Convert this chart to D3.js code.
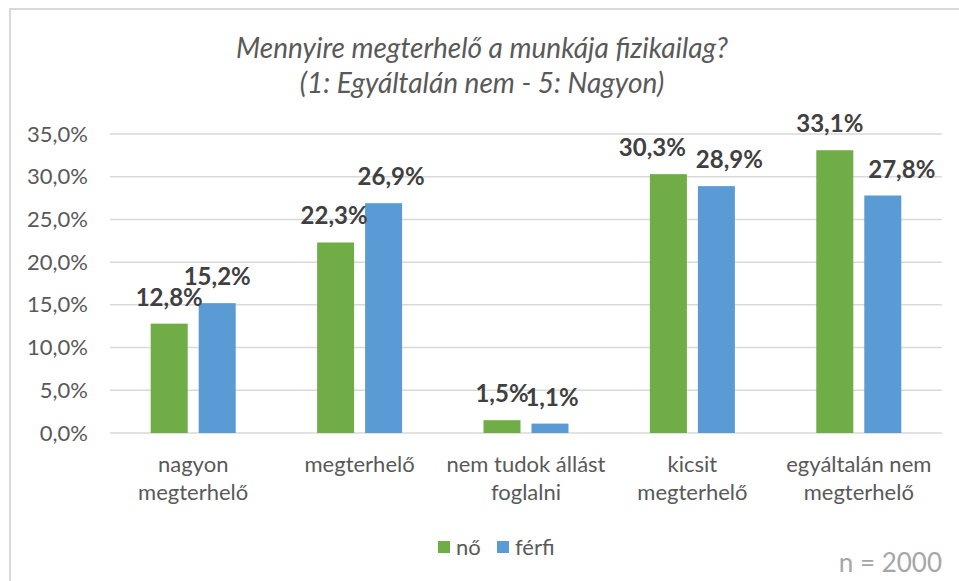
<!DOCTYPE html>
<html lang="hu">

<head>
    <meta charset="utf-8">
    <title>Mennyire megterhelő a munkája fizikailag?</title>
    <script type="text/javascript" src="https://d3js.org/d3.v7.min.js"></script>
    <style type="text/css">
        body {
            margin: 0;
            background: #fff;
        }

        text {
            font-family: Lato, "Open Sans", sans-serif;
            fill: #595959;
        }

        .axis path,
        .axis line {
            display: none;
        }
    </style>
</head>

<body>
    <script type="text/javascript">

        // data
        var categories = [
            ["nagyon", "megterhelő"],
            ["megterhelő"],
            ["nem tudok állást", "foglalni"],
            ["kicsit", "megterhelő"],
            ["egyáltalán nem", "megterhelő"]
        ];
        var seriesNames = ["nő", "férfi"];
        var noValues = [12.8, 22.3, 1.5, 30.3, 33.1];
        var ferfiValues = [15.2, 26.9, 1.1, 28.9, 27.8];
        var yTicks = [0, 5, 10, 15, 20, 25, 30, 35];
        var titleLines = ["Mennyire megterhelő a munkája fizikailag?", "(1: Egyáltalán nem - 5: Nagyon)"];
        var note = "n = 2000";

        // styling: colours and label nudges (Excel pushes overlapping labels apart)
        var colors = ["#70ad47", "#5b9bd5"];
        var labelShift = [[0, 0], [-1.5, 7.5], [0, 2], [-16, 13], [-5, 19]];
        var W = 959, H = 581;
        var plot = { left: 110, right: 942, top: 134, bottom: 433 };

        var svg = d3.select("body")
            .append("svg")
            .attr("width", W)
            .attr("height", H);

        // chart frame (only top and left edges visible)
        svg.append("rect")
            .attr("x", 10)
            .attr("y", 9)
            .attr("width", W + 20)
            .attr("height", H + 20)
            .attr("fill", "none")
            .attr("stroke", "#d9d9d9")
            .attr("stroke-width", 2);

        // title
        svg.append("text")
            .attr("x", 482)
            .attr("y", 58)
            .attr("text-anchor", "middle")
            .style("font-style", "italic")
            .style("font-size", "28px")
            .selectAll("tspan")
            .data(titleLines)
            .enter()
            .append("tspan")
            .attr("x", 482)
            .attr("dy", function (d, i) { return i === 0 ? 0 : 35; })
            .text(function (d) { return d; });

        // scales
        var rows = categories.map(function (c, i) {
            return { key: i, label: c, values: [noValues[i], ferfiValues[i]] };
        });

        var x0 = d3.scaleBand()
            .domain(rows.map(function (d) { return d.key; }))
            .range([plot.left, plot.right]);

        var x1 = d3.scaleBand()
            .domain([0, 1])
            .range([0, x0.bandwidth()])
            .paddingInner(11 / 48)
            .paddingOuter(0.848);

        var y = d3.scaleLinear()
            .domain([0, 35])
            .range([plot.bottom, plot.top]);

        var fmt = function (v) { return v.toFixed(1).replace(".", ",") + "%"; };

        // gridlines
        svg.append("g")
            .selectAll("line")
            .data(yTicks)
            .enter()
            .append("line")
            .attr("x1", plot.left)
            .attr("x2", plot.right)
            .attr("y1", function (d) { return y(d); })
            .attr("y2", function (d) { return y(d); })
            .attr("stroke", "#d9d9d9")
            .attr("stroke-width", 1.5);

        // y axis
        var yAxis = svg.append("g")
            .attr("class", "axis")
            .attr("transform", "translate(" + (plot.left - 22) + ",0)")
            .call(d3.axisLeft(y).tickValues(yTicks).tickSize(0).tickPadding(0)
                .tickFormat(fmt));
        yAxis.selectAll("text")
            .style("font-size", "22px")
            .style("font-family", "Lato, sans-serif")
            .attr("fill", "#595959");

        // bars
        var groups = svg.append("g")
            .selectAll("g")
            .data(rows)
            .enter()
            .append("g")
            .attr("transform", function (d) { return "translate(" + x0(d.key) + ",0)"; });

        groups.selectAll("rect")
            .data(function (d) { return d.values; })
            .enter()
            .append("rect")
            .attr("x", function (d, i) { return x1(i); })
            .attr("y", function (d) { return y(d); })
            .attr("width", x1.bandwidth())
            .attr("height", function (d) { return y(0) - y(d); })
            .attr("fill", function (d, i) { return colors[i]; });

        // data labels
        groups.selectAll("text.val")
            .data(function (d) {
                return d.values.map(function (v, i) { return { v: v, dx: labelShift[d.key][i] }; });
            })
            .enter()
            .append("text")
            .attr("class", "val")
            .attr("x", function (d, i) { return x1(i) + x1.bandwidth() / 2 + d.dx; })
            .attr("y", function (d) { return y(d.v) - 18; })
            .attr("text-anchor", "middle")
            .style("font-size", "24px")
            .style("font-weight", "bold")
            .style("fill", "#404040")
            .text(function (d) { return fmt(d.v); });

        // category labels
        groups.append("text")
            .attr("text-anchor", "middle")
            .style("font-size", "22px")
            .selectAll("tspan")
            .data(function (d) { return d.label; })
            .enter()
            .append("tspan")
            .attr("x", x0.bandwidth() / 2)
            .attr("y", function (d, i) { return 472 + i * 28; })
            .text(function (d) { return d; });

        // legend
        var legendX = [438, 497];
        var legend = svg.append("g")
            .selectAll("g")
            .data(seriesNames)
            .enter()
            .append("g")
            .attr("transform", function (d, i) { return "translate(" + legendX[i] + ",541)"; });

        legend.append("rect")
            .attr("width", 12)
            .attr("height", 12)
            .attr("fill", function (d, i) { return colors[i]; });

        legend.append("text")
            .attr("x", 18)
            .attr("y", 14)
            .style("font-size", "22px")
            .text(function (d) { return d; });

        // sample size note
        svg.append("text")
            .attr("x", 942)
            .attr("y", 572)
            .attr("text-anchor", "end")
            .style("font-size", "26px")
            .style("fill", "#a6a6a6")
            .text(note);
    </script>
</body>

</html>
